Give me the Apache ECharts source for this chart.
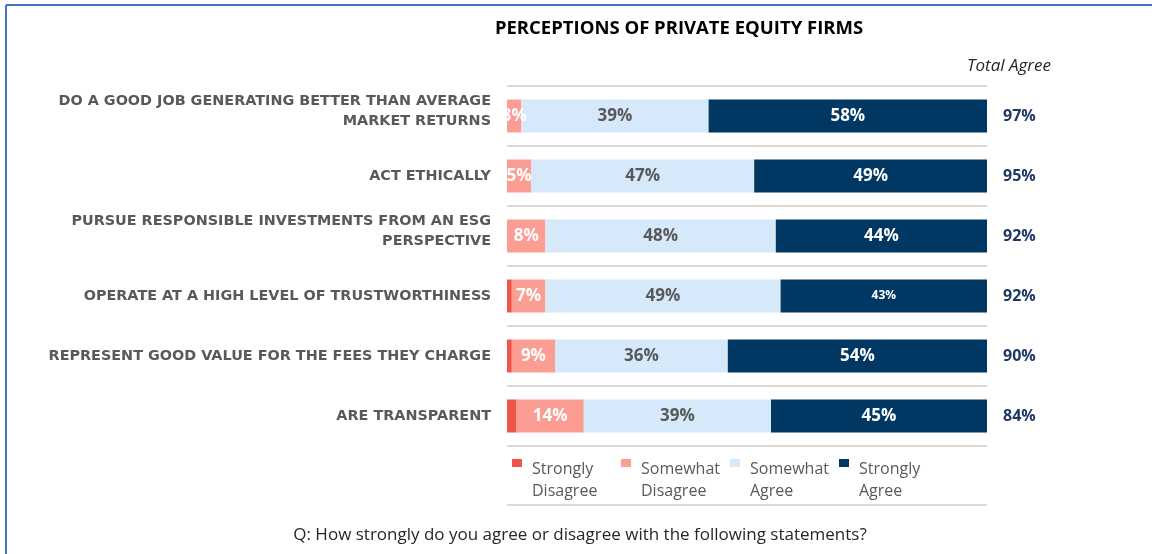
<!DOCTYPE html>
<html>
<head>
<meta charset="utf-8">
<script src="https://cdn.jsdelivr.net/npm/echarts@6/dist/echarts.min.js"></script>
<style>
    html, body { margin: 0; padding: 0; background: #fff; }
    #main { width: 1152px; height: 554px; }
</style>
</head>
<body>
<div id="main"></div>
<script>
// categories (top to bottom)
var statements = [
    'DO A GOOD JOB GENERATING BETTER THAN AVERAGE\nMARKET RETURNS',
    'ACT ETHICALLY',
    'PURSUE RESPONSIBLE INVESTMENTS FROM AN ESG\nPERSPECTIVE',
    'OPERATE AT A HIGH LEVEL OF TRUSTWORTHINESS',
    'REPRESENT GOOD VALUE FOR THE FEES THEY CHARGE',
    'ARE TRANSPARENT'
];
// shares in %
var stronglyDisagree = [0, 0, 0, 1, 1, 2];
var somewhatDisagree = [3, 5, 8, 7, 9, 14];
var somewhatAgree = [39, 46.5, 48, 49, 36, 39];
var stronglyAgree = [58, 48.5, 44, 43, 54, 45];
var totalAgree = [97, 95, 92, 92, 90, 84];

var seriesNames = ['Strongly\nDisagree', 'Somewhat\nDisagree', 'Somewhat\nAgree', 'Strongly\nAgree'];
var colors = ['#EF5548', '#FC9D94', '#D5E9FA', '#003763'];

var myChart = echarts.init(document.getElementById('main'));

function pct(p) {
    return p.value ? Math.round(p.value) + '%' : '';
}

var labelBase = {
    show: true,
    position: 'inside',
    fontFamily: 'Open Sans',
    fontWeight: 'bold',
    fontSize: 17,
    formatter: pct
};

function barSeries(name, data, labelColor) {
    return {
        name: name,
        type: 'bar',
        stack: 'all',
        barWidth: 33,
        data: data,
        label: labelColor ? Object.assign({}, labelBase, {color: labelColor}) : {show: false}
    };
}

// two-line labels sit a bit higher than the bar centre: pad them with a short blank line
function statementLabel(value) {
    var lines = value.split('\n').map(function (l) { return '{t|' + l + '}'; });
    if (lines.length > 1) lines.push('{s| }');
    return lines.join('\n');
}

var option = {
    animation: false,
    color: colors,
    title: [
        {
            text: 'PERCEPTIONS OF PRIVATE EQUITY FIRMS',
            left: 679, top: 19, padding: 0, textAlign: 'center',
            textStyle: {fontFamily: 'Open Sans', fontWeight: 'bold', fontSize: 18.5, color: '#000'}
        },
        {
            text: 'Total Agree',
            left: 1009, top: 58, padding: 0, textAlign: 'center',
            textStyle: {fontFamily: 'Open Sans', fontStyle: 'italic', fontWeight: 'normal', fontSize: 17, color: '#262626'}
        },
        {
            text: 'Q: How strongly do you agree or disagree with the following statements?',
            left: 580, top: 527, padding: 0, textAlign: 'center',
            textStyle: {fontFamily: 'Open Sans', fontWeight: 'normal', fontSize: 17, color: '#262626'}
        }
    ],
    legend: {
        left: 512,
        top: 458,
        padding: 0,
        itemGap: 0,
        itemWidth: 15,
        itemHeight: 44,
        icon: 'path://M0,1H10V9H0Z M15,0 M15,44',
        textStyle: {fontFamily: 'Open Sans', fontSize: 16, lineHeight: 22, color: '#595959', width: 89},
        data: seriesNames
    },
    grid: {
        left: 507,
        right: 165,
        top: 86,
        bottom: 108
    },
    xAxis: {
        type: 'value',
        min: 0,
        max: 100,
        show: false
    },
    yAxis: [
        {
            type: 'category',
            inverse: true,
            data: statements,
            axisLine: {show: false},
            axisTick: {show: false},
            axisLabel: {
                margin: 16,
                formatter: statementLabel,
                rich: {
                    t: {
                        color: '#595959',
                        fontFamily: 'DejaVu Sans',
                        fontWeight: 'bold',
                        fontSize: 14.4,
                        lineHeight: 20
                    },
                    s: {fontSize: 1, lineHeight: 10}
                }
            },
            splitLine: {show: true, interval: 0, lineStyle: {color: '#D9D9D9', width: 2}}
        },
        {
            type: 'category',
            inverse: true,
            position: 'right',
            data: totalAgree.map(function (v) { return v + '%'; }),
            axisLine: {show: false},
            axisTick: {show: false},
            axisLabel: {
                margin: 16,
                color: '#1F3864',
                fontFamily: 'Open Sans',
                fontWeight: 'bold',
                fontSize: 16
            }
        }
    ],
    series: [
        barSeries(seriesNames[0], stronglyDisagree, null),
        barSeries(seriesNames[1], somewhatDisagree, '#fff'),
        barSeries(seriesNames[2], somewhatAgree, '#595959'),
        barSeries(seriesNames[3], stronglyAgree.map(function (v, i) {
            return i === 3 ? {value: v, label: {fontSize: 12}} : v;
        }), '#fff')
    ],
    graphic: [
        {type: 'line', shape: {x1: 6, y1: 5, x2: 1152, y2: 5}, style: {stroke: '#4472C4', lineWidth: 2}},
        {type: 'line', shape: {x1: 6, y1: 5, x2: 6, y2: 554}, style: {stroke: '#4472C4', lineWidth: 2}},
        {type: 'line', shape: {x1: 507, y1: 505, x2: 987, y2: 505}, style: {stroke: '#D9D9D9', lineWidth: 2}}
    ]
};

myChart.setOption(option);
</script>
</body>
</html>
